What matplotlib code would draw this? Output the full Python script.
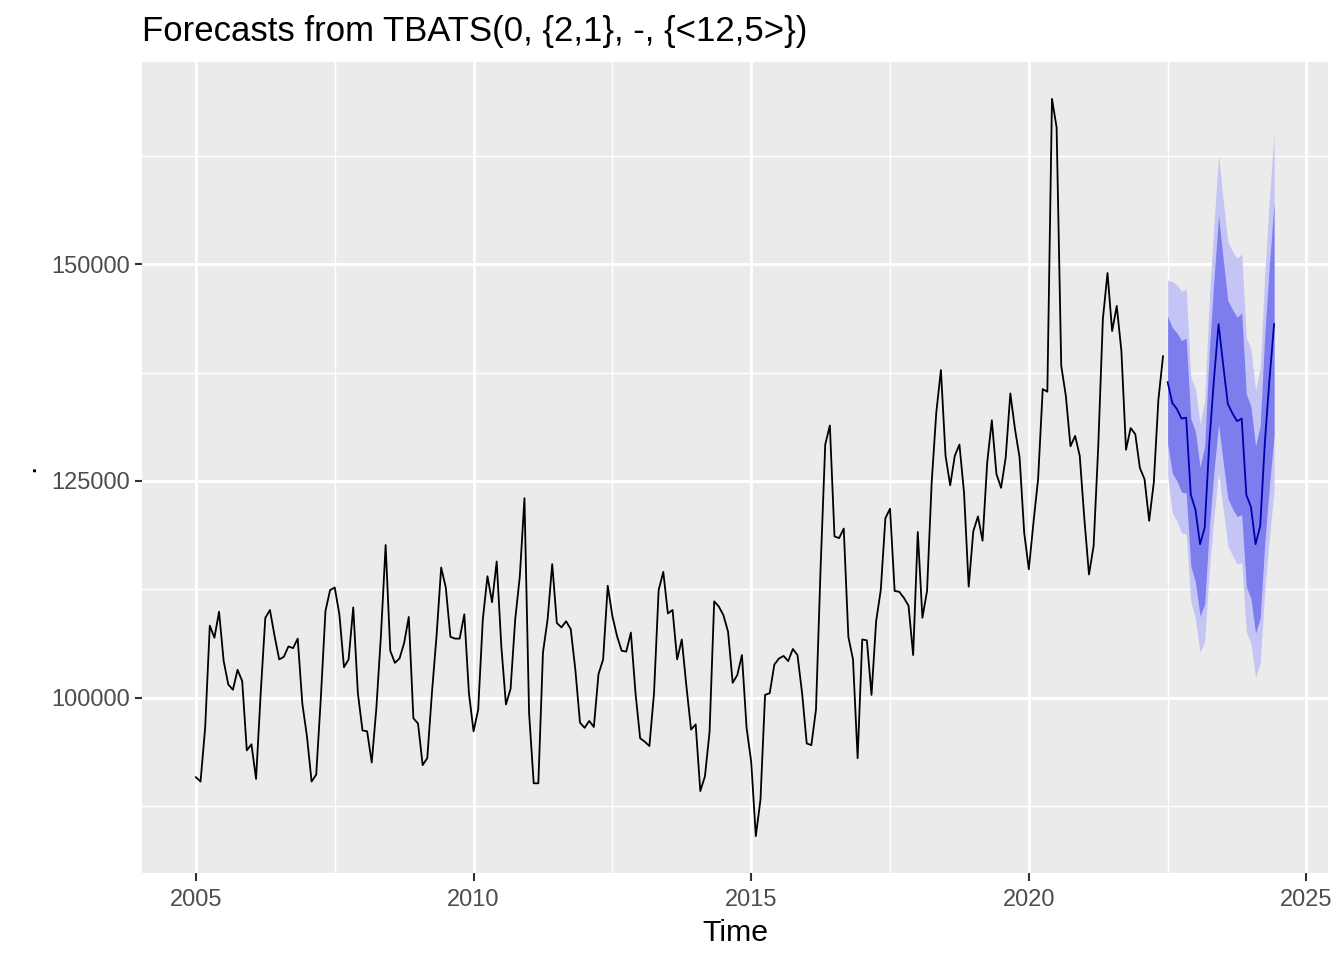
import numpy as np
import matplotlib
matplotlib.use("Agg")
import matplotlib.pyplot as plt
from matplotlib.ticker import MultipleLocator

# monthly series, Jan 2005 - Jun 2022
series = [
    90800, 90300, 96500, 108300, 106900, 109900, 104200, 101500, 100900, 103200, 101900, 93900,
    94600, 90600, 100500, 109200, 110100, 107100, 104400, 104700, 105900, 105700, 106800, 99300,
    95500, 90300, 91100, 100000, 110000, 112400, 112700, 109600, 103500, 104400, 110400, 100500,
    96200, 96100, 92500, 98800, 107300, 117600, 105400, 104000, 104500, 106300, 109300, 97600,
    97000, 92200, 93000, 100500, 107100, 115000, 112700, 107000, 106800, 106800, 109600, 100500,
    96100, 98600, 109000, 114000, 111000, 115700, 105900, 99200, 101000, 109000, 114000, 123000,
    98200, 90100, 90100, 105200, 109000, 115400, 108600, 108100, 108800, 107900, 103200, 97100,
    96500, 97300, 96600, 102700, 104400, 112900, 109400, 107100, 105400, 105300, 107500, 100500,
    95300, 94900, 94400, 100500, 112400, 114500, 109700, 110100, 104400, 106700, 101300, 96300,
    96900, 89200, 90900, 96000, 111100, 110500, 109500, 107600, 101700, 102600, 104900, 96500,
    92600, 84000, 88200, 100300, 100500, 103800, 104500, 104800, 104200, 105600, 104900, 100500,
    94700, 94500, 98600, 115000, 129200, 131400, 118600, 118400, 119500, 107000, 104400, 93000,
    106700, 106600, 100300, 108800, 112400, 120700, 121800, 112300, 112200, 111500, 110600, 104900,
    119100, 109200, 112300, 124800, 132900, 137800, 127900, 124500, 127900, 129200, 123600, 112800,
    119200, 120900, 118100, 127100, 132000, 125800, 124200, 127700, 135100, 131000, 127700, 119000,
    114800, 120200, 125200, 135600, 135300, 169100, 165800, 138300, 134800, 129000, 130200, 127900,
    120600, 114200, 117500, 129000, 143700, 149000, 142300, 145200, 140000, 128600, 131100, 130400,
    126500, 125200, 120400, 124800, 134400, 139400,
]
start_year = 2005

# forecasts, Jul 2022 - Jun 2024
fc_mean = [136400, 134000, 133300, 132200, 132300, 123400, 121700, 117700, 119600, 129400, 136700, 143100,
           138400, 133900, 132800, 131900, 132200, 123400, 122000, 117700, 119800, 129400, 136700, 143100]
fc_hi80 = [144000, 142700, 142100, 141200, 141500, 132200, 130700, 126600, 129000, 140000, 148200, 155600,
           150600, 145800, 144800, 143900, 144400, 135000, 133600, 129000, 131400, 142000, 150100, 157100]
fc_lo80 = [129300, 125900, 125000, 123700, 123600, 115200, 113300, 109400, 110800, 119600, 126100, 131600,
           127200, 123000, 121800, 120900, 121100, 112800, 111400, 107400, 109200, 118000, 124500, 130300]
fc_hi95 = [148200, 148000, 147600, 146900, 147100, 137000, 135700, 131600, 134300, 146000, 154600, 162600,
           157400, 152600, 151500, 150700, 151200, 141600, 140200, 135400, 138000, 149100, 157700, 165100]
fc_lo95 = [125600, 121300, 120400, 119000, 118900, 111100, 109100, 105200, 106500, 114700, 120800, 126000,
           121700, 117500, 116400, 115400, 115600, 107600, 106200, 102300, 104000, 112300, 118500, 124000]
fc_start = 2022.5

title = "Forecasts from TBATS(0, {2,1}, -, {<12,5>})"

plt.rcParams["font.family"] = ["Liberation Sans", "DejaVu Sans"]

t = start_year + np.arange(len(series)) / 12
tf = fc_start + np.arange(len(fc_mean)) / 12

fig = plt.figure(figsize=(13.44, 9.6), dpi=100)
ax = fig.add_axes([142 / 1344, 87 / 960, 1186 / 1344, 811 / 960])
ax.set_facecolor("#EBEBEB")
for s in ax.spines.values():
    s.set_visible(False)

ax.fill_between(tf, fc_lo95, fc_hi95, color="#C4C4F5", linewidth=0, zorder=2)
ax.fill_between(tf, fc_lo80, fc_hi80, color="#7D7DEE", linewidth=0, zorder=3)
ax.plot(t, series, color="black", linewidth=1.3, zorder=4)
ax.plot(tf, fc_mean, color="#0000AA", linewidth=1.3, zorder=5)

# ggplot style expansion of 5%
x0, x1 = t[0], tf[-1]
dx = (x1 - x0) * 0.05
ax.set_xlim(x0 - dx, x1 + dx)
ymin = min(min(series), min(fc_lo95))
ymax = max(max(series), max(fc_hi95))
dy = (ymax - ymin) * 0.05
ax.set_ylim(ymin - dy, ymax + dy)

ax.xaxis.set_major_locator(MultipleLocator(5))
ax.xaxis.set_minor_locator(MultipleLocator(2.5))
ax.yaxis.set_major_locator(MultipleLocator(25000))
ax.yaxis.set_minor_locator(MultipleLocator(12500))
ax.grid(which="major", color="white", linewidth=2.1, zorder=1)
ax.grid(which="minor", color="white", linewidth=1.05, zorder=1)
ax.set_axisbelow(True)

ax.tick_params(which="major", length=5.4, width=1.5, color="#333333",
               labelsize=17, labelcolor="#4D4D4D", pad=3.5)
ax.tick_params(axis="x", which="major", pad=6)
ax.tick_params(which="minor", length=0)

ax.set_title(title, loc="left", fontsize=25, pad=15)
ax.set_xlabel("Time", fontsize=21.8, labelpad=6)
ax.set_ylabel(".", fontsize=21.8, labelpad=8)

fig.savefig("out.png", dpi=100)
